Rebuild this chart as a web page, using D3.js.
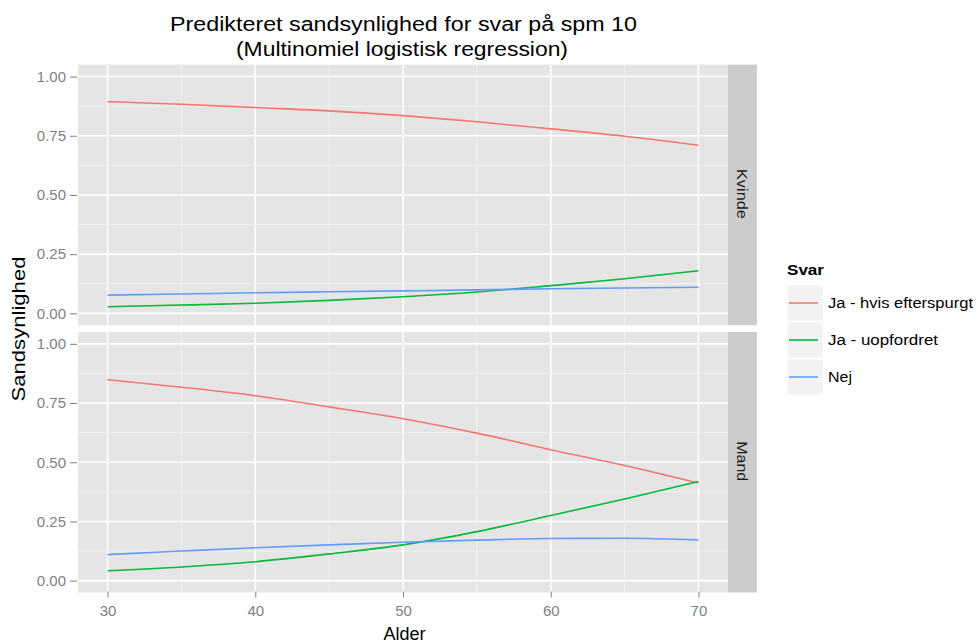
<!DOCTYPE html>
<html><head><meta charset="utf-8">
<script src="https://cdn.jsdelivr.net/npm/d3@7"></script>
<style>body{margin:0;background:#fff;font-family:"Liberation Sans",Arial,sans-serif;}</style>
</head><body><svg id="c" width="977" height="643"></svg>
<script>
const ages = [30, 35, 40, 45, 50, 55, 60, 65, 70];
const panels = ["Kvinde", "Mand"];
const seriesNames = ["Ja - hvis efterspurgt", "Ja - uopfordret", "Nej"];
const seriesColors = ["#F8766D", "#00BA38", "#619CFF"];
const kvindeJaHvis = [0.894, 0.883, 0.869, 0.855, 0.835, 0.809, 0.779, 0.748, 0.710];
const kvindeJaUopf = [0.028, 0.035, 0.043, 0.055, 0.070, 0.090, 0.117, 0.146, 0.180];
const kvindeNej    = [0.077, 0.082, 0.087, 0.091, 0.095, 0.099, 0.104, 0.107, 0.110];
const mandJaHvis   = [0.849, 0.817, 0.781, 0.734, 0.684, 0.623, 0.553, 0.486, 0.412];
const mandJaUopf   = [0.042, 0.058, 0.080, 0.113, 0.151, 0.207, 0.275, 0.345, 0.419];
const mandNej      = [0.110, 0.125, 0.139, 0.151, 0.162, 0.171, 0.178, 0.179, 0.172];
const xTicks = [30, 40, 50, 60, 70];
const yTicks = [0, 0.25, 0.5, 0.75, 1];
const yTickLabels = ["0.00", "0.25", "0.50", "0.75", "1.00"];

const panelData = {
  "Kvinde": [kvindeJaHvis, kvindeJaUopf, kvindeNej],
  "Mand": [mandJaHvis, mandJaUopf, mandNej]
};
const stripLen = { "Kvinde": 50, "Mand": 40 };
const legendLen = [145, 110, 24];

const svg = d3.select("#c");
const L = 78, R = 728, stripW = 29;
const panelTops = [64.7, 332];
const panelH = 260.5;
const FONT = "Liberation Sans, Arial, sans-serif";

const x = d3.scaleLinear().domain([28, 72]).range([L, R]);
const xMinor = [35, 45, 55, 65];
const yMinor = [0.125, 0.375, 0.625, 0.875];

svg.append("text").attr("x", 403.5).attr("y", 31).attr("text-anchor", "middle")
  .attr("font-size", 20).attr("fill", "#000").attr("textLength", 467).attr("lengthAdjust", "spacingAndGlyphs")
  .text("Predikteret sandsynlighed for svar på spm 10");
svg.append("text").attr("x", 402).attr("y", 56).attr("text-anchor", "middle")
  .attr("font-size", 20).attr("fill", "#000").attr("textLength", 332).attr("lengthAdjust", "spacingAndGlyphs")
  .text("(Multinomiel logistisk regression)");

panels.forEach((p, i) => {
  const top = panelTops[i];
  const y = d3.scaleLinear().domain([-0.05, 1.05]).range([top + panelH, top]);
  const g = svg.append("g");
  g.append("rect").attr("x", L).attr("y", top).attr("width", R - L).attr("height", panelH).attr("fill", "#E5E5E5");
  g.selectAll(".ymin").data(yMinor).join("line")
    .attr("x1", L).attr("x2", R).attr("y1", d => y(d)).attr("y2", d => y(d))
    .attr("stroke", "#F2F2F2").attr("stroke-width", 1);
  g.selectAll(".xmin").data(xMinor).join("line")
    .attr("y1", top).attr("y2", top + panelH).attr("x1", d => x(d)).attr("x2", d => x(d))
    .attr("stroke", "#F2F2F2").attr("stroke-width", 1);
  g.selectAll(".ymaj").data(yTicks).join("line")
    .attr("x1", L).attr("x2", R).attr("y1", d => y(d)).attr("y2", d => y(d))
    .attr("stroke", "#FFFFFF").attr("stroke-width", 1.6);
  g.selectAll(".xmaj").data(xTicks).join("line")
    .attr("y1", top).attr("y2", top + panelH).attr("x1", d => x(d)).attr("x2", d => x(d))
    .attr("stroke", "#FFFFFF").attr("stroke-width", 1.6);
  const ya = d3.axisLeft(y).tickValues(yTicks).tickFormat((d, k) => yTickLabels[k]).tickSize(7).tickPadding(4);
  const yg = svg.append("g").attr("transform", `translate(${L - 1},0)`).call(ya);
  yg.select(".domain").remove();
  yg.selectAll("line").attr("stroke", "#7F7F7F");
  yg.selectAll("text").attr("fill", "#7F7F7F").attr("font-size", 15).attr("font-family", FONT);
  const line = d3.line().x((d, k) => x(ages[k])).y(d => y(d)).curve(d3.curveMonotoneX);
  panelData[p].forEach((vals, s) => {
    g.append("path").attr("d", line(vals)).attr("fill", "none")
      .attr("stroke", seriesColors[s]).attr("stroke-width", 1.6);
  });
  svg.append("rect").attr("x", R).attr("y", top).attr("width", stripW).attr("height", panelH).attr("fill", "#CCCCCC");
  svg.append("text").attr("transform", `translate(${R + stripW / 2 - 1},${top + panelH / 2 - 1}) rotate(90)`)
    .attr("text-anchor", "middle").attr("dy", "0.35em").attr("font-size", 14).attr("fill", "#1A1A1A")
    .attr("textLength", stripLen[p]).attr("lengthAdjust", "spacingAndGlyphs").text(p);
});

const xa = d3.axisBottom(x).tickValues(xTicks).tickSize(6).tickPadding(8);
const xg = svg.append("g").attr("transform", `translate(0,${panelTops[1] + panelH - 1})`).call(xa);
xg.select(".domain").remove();
xg.selectAll("line").attr("stroke", "#7F7F7F");
xg.selectAll("text").attr("fill", "#7F7F7F").attr("font-size", 15).attr("font-family", FONT);

svg.append("text").attr("x", 404.5).attr("y", 640).attr("text-anchor", "middle").attr("font-size", 18).attr("fill", "#000").text("Alder");
svg.append("text").attr("transform", "translate(25,329) rotate(-90)").attr("text-anchor", "middle")
  .attr("font-size", 18).attr("fill", "#000").attr("textLength", 145).attr("lengthAdjust", "spacingAndGlyphs")
  .text("Sandsynlighed");

const lg = svg.append("g");
lg.append("text").attr("x", 787).attr("y", 275).attr("font-size", 15).attr("font-weight", "bold").attr("fill", "#000")
  .attr("textLength", 37).attr("lengthAdjust", "spacingAndGlyphs").text("Svar");
seriesNames.forEach((n, i) => {
  const ky = 285 + i * 37;
  lg.append("rect").attr("x", 787).attr("y", ky).attr("width", 36).attr("height", 36)
    .attr("fill", "#F2F2F2").attr("stroke", "#FFFFFF").attr("stroke-width", 1);
  lg.append("line").attr("x1", 789).attr("x2", 818).attr("y1", ky + 18).attr("y2", ky + 18)
    .attr("stroke", seriesColors[i]).attr("stroke-width", 1.6);
  lg.append("text").attr("x", 828).attr("y", ky + 18).attr("dy", "0.35em").attr("font-size", 14).attr("fill", "#000")
    .attr("textLength", legendLen[i]).attr("lengthAdjust", "spacingAndGlyphs").text(n);
});
</script></body></html>
